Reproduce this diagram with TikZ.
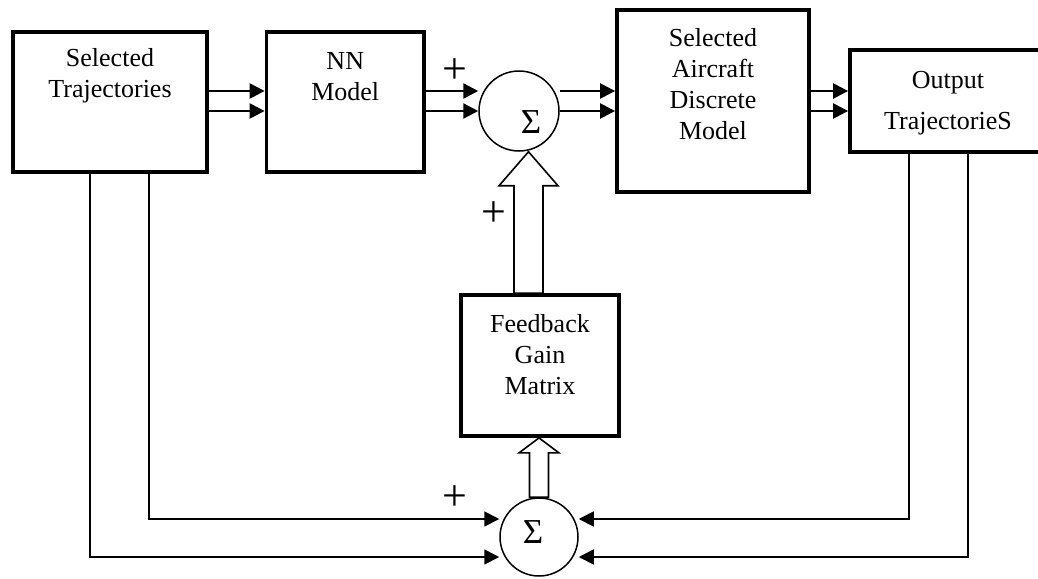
\documentclass[tikz,border=0pt]{standalone}
\usepackage{fontspec}
\setmainfont{Liberation Serif}
\usetikzlibrary{arrows.meta, positioning, calc}

\begin{document}
\begin{tikzpicture}[
    x=0.5pt, y=-0.5pt,
    block/.style={
        rectangle, draw=black, line width=1.9pt,
        fill=white, inner sep=0pt
    },
    sumnode/.style={
        circle, draw=black, line width=0.75pt,
        fill=white, inner sep=0pt
    },
    boxtext/.style={align=center, inner sep=0pt,
                    font=\fontsize{13}{15.5}\selectfont},
    sigma/.style={inner sep=0pt, font=\fontsize{17.5}{17.5}\selectfont},
    plus/.style={inner sep=0pt, font=\fontsize{22}{22}\selectfont},
    arr/.style={-{Triangle[length=7.5pt, width=7.5pt]}, line width=1.2pt},
    back/.style={-{Triangle[length=7.5pt, width=7.5pt]}, line width=0.9pt},
    hollow/.style={draw=black, line width=0.8pt, fill=white}
]

\useasboundingbox (0,0) rectangle (1038,578);

% ===================================================================
% BUS LEVELS
% ===================================================================
\coordinate (busA) at (0,91);
\coordinate (busB) at (0,111);
\coordinate (busC) at (0,519);
\coordinate (busD) at (0,557);
\coordinate (hup) at (528.5,0);

% ===================================================================
% BLOCKS
% ===================================================================
\node[block, minimum width=97pt, minimum height=70.25pt] (traj) at (110,102) {};
\node[boxtext, below=9pt of traj.north] (traj-t) {Selected\\Trajectories};

\node[block, minimum width=78.75pt, minimum height=70.25pt] (nn) at (345.25,102) {};
\node[boxtext, below=11.25pt of nn.north] (nn-t) {NN\\Model};

\node[block, minimum width=96pt, minimum height=91pt] (sadm) at (713,101) {};
\node[boxtext, below=10pt of sadm.north] (sadm-t)
    {Selected\\Aircraft\\Discrete\\Model};

\node[block, minimum width=98pt, minimum height=51pt] (out) at (948,101) {};
\node[boxtext, below=11.5pt of out.north] (out-t) {Output\\[5pt]TrajectorieS};

\node[block, minimum width=79pt, minimum height=70.5pt] (fb) at (540,365.5) {};
\node[boxtext, below=10.5pt of fb.north] (fb-t) {Feedback\\Gain\\Matrix};

% ===================================================================
% SUMMING JUNCTIONS
% ===================================================================
\node[sumnode, minimum size=40pt] (sum1) at (519,111) {};
\node[sigma] (sig1) at ($(sum1)+(12,11)$) {Σ};

\node[sumnode, minimum size=39pt] (sum2) at (539,537) {};
\node[sigma] (sig2) at ($(sum2)+(-6,-5)$) {Σ};

\node[plus] (plus-nn) at (455,71) {+};
\node[plus] (plus-fb) at (494,214) {+};
\node[plus] (plus-traj) at (455,498) {+};

% ===================================================================
% FORWARD PATH
% ===================================================================
\draw[arr] (traj.east |- busA) -- (nn.west |- busA);
\draw[arr] (traj.east |- busB) -- (nn.west |- busB);
\draw[arr] (nn.east |- busA) -- (sum1.west |- busA);
\draw[arr] (nn.east |- busB) -- (sum1.west |- busB);
\draw[arr] (sum1.east |- busA) -- (sadm.west |- busA);
\draw[arr] (sum1.east |- busB) -- (sadm.west |- busB);
\draw[arr] (sadm.east |- busA) -- (out.west |- busA);
\draw[arr] (sadm.east |- busB) -- (out.west |- busB);

% ===================================================================
% FEEDBACK PATH
% ===================================================================
\draw[back] ([xshift=19.5pt]traj.south) |- (sum2.west |- busC);
\draw[back] ([xshift=-10pt]traj.south) |- (sum2.west |- busD);
\draw[back] ([xshift=-19.5pt]out.south) |- (sum2.east |- busC);
\draw[back] ([xshift=10pt]out.south) |- (sum2.east |- busD);

% hollow arrows
\coordinate (tipup) at (hup |- sum1.south);
\coordinate (baseup) at (hup |- fb.north);
\draw[hollow] (tipup) -- ++(29.5,34) -- ++(-15,0)
    -- ($(baseup)+(14.5,0)$) -- ($(baseup)+(-14.5,0)$)
    -- ($(tipup)+(-14.5,34)$) -- ++(-15,0) -- cycle;

\coordinate (tipdn) at (fb.south -| sum2.north);
\coordinate (basedn) at (sum2.north);
\draw[hollow] (tipdn) -- ++(20,15) -- ++(-10.5,0)
    -- ($(basedn)+(9.5,0)$) -- ($(basedn)+(-9.5,0)$)
    -- ($(tipdn)+(-9.5,15)$) -- ++(-10.5,0) -- cycle;

\end{tikzpicture}
\end{document}
